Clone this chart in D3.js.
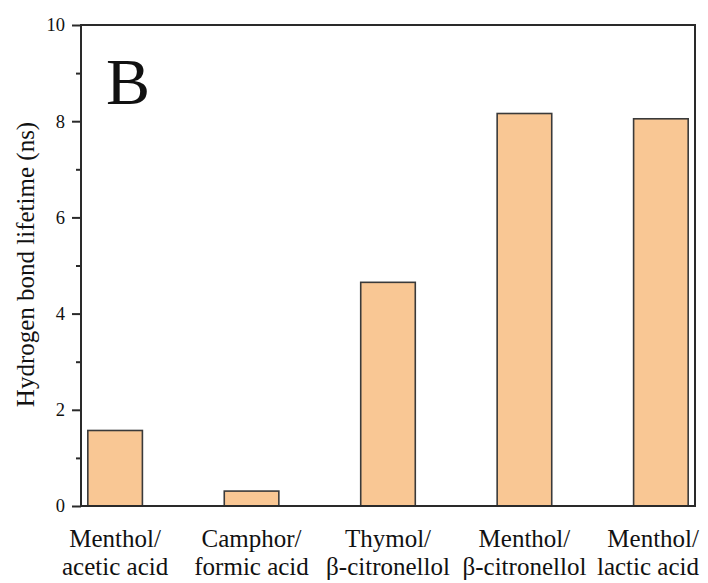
<!DOCTYPE html>
<html>
<head>
<meta charset="utf-8">
<script src="https://cdn.jsdelivr.net/npm/d3@7"></script>
<style>
  html, body { margin: 0; padding: 0; background: #fff; }
  svg { display: block; }
</style>
</head>
<body>
<svg id="chart" width="708" height="583"></svg>
<script>
// Hydrogen bond lifetime for each deep eutectic pair
const categories = [
  ["Menthol/", "acetic acid"],
  ["Camphor/", "formic acid"],
  ["Thymol/", "β-citronellol"],
  ["Menthol/", "β-citronellol"],
  ["Menthol/", "lactic acid"]
];
const lifetimes = [1.57, 0.31, 4.65, 8.16, 8.05];
const majorTicks = [0, 2, 4, 6, 8, 10];
const minorTicks = [1, 3, 5, 7, 9];
const panelLabel = "B";
const yTitle = "Hydrogen bond lifetime (ns)";

const SERIF = "'Liberation Serif', 'Times New Roman', Times, serif";
const INK = "#111";

const W = 708, H = 583;
const m = { left: 81, right: 13, top: 25, bottom: 77 };
const x0 = m.left, x1 = W - m.right, y0 = H - m.bottom, y1 = m.top;

const svg = d3.select("#chart");

const keys = categories.map((c, i) => i);
const x = d3.scaleBand().domain(keys).range([x0, x1])
  .paddingInner(0.6).paddingOuter(0.05);
const y = d3.scaleLinear().domain([0, 10]).range([y0, y1]);

// bars
svg.append("g").selectAll("rect")
  .data(lifetimes)
  .join("rect")
  .attr("x", (d, i) => x(i))
  .attr("y", d => y(d))
  .attr("width", x.bandwidth())
  .attr("height", d => y(0) - y(d))
  .attr("fill", "#f9c794")
  .attr("stroke", "#3a3a3a")
  .attr("stroke-width", 1.6);

// y axis: major ticks with labels
const yAxis = d3.axisLeft(y).tickValues(majorTicks).tickSize(9).tickPadding(7)
  .tickFormat(d3.format("d"));
const gy = svg.append("g").attr("transform", `translate(${x0},0)`).call(yAxis)
  .attr("font-family", SERIF);
gy.select(".domain").remove();
gy.selectAll(".tick line").attr("stroke", "#2a2a2a").attr("stroke-width", 2);
gy.selectAll(".tick text")
  .style("font-family", SERIF)
  .style("font-size", "18.5px")
  .attr("fill", INK);

// minor ticks
const yMinor = d3.axisLeft(y).tickValues(minorTicks).tickSize(5).tickFormat("");
const gm = svg.append("g").attr("transform", `translate(${x0},0)`).call(yMinor);
gm.select(".domain").remove();
gm.selectAll(".tick line").attr("stroke", "#2a2a2a").attr("stroke-width", 2);

// frame
svg.append("rect")
  .attr("x", x0).attr("y", y1)
  .attr("width", x1 - x0).attr("height", y0 - y1)
  .attr("fill", "none").attr("stroke", "#2a2a2a").attr("stroke-width", 2);

// category labels (two lines each); each line kept inside the canvas
const xl = svg.append("g");
categories.forEach((lines, i) => {
  const cx = x(i) + x.bandwidth() / 2;
  lines.forEach((s, k) => {
    const t = xl.append("text")
      .attr("text-anchor", "middle")
      .attr("fill", INK)
      .style("font-family", SERIF)
      .style("font-size", "25px")
      .attr("x", cx).attr("y", 547 + k * 28)
      .text(s);
    const half = t.node().getComputedTextLength() / 2;
    const shift = Math.min(0, W - 9 - (cx + half));
    if (shift < 0) t.attr("x", cx + shift);
  });
});

// y title
svg.append("text")
  .attr("transform", `translate(34,${(y0 + y1) / 2 - 1}) rotate(-90)`)
  .attr("text-anchor", "middle")
  .attr("fill", INK)
  .style("font-family", SERIF)
  .style("font-size", "25px")
  .text(yTitle);

// panel letter
svg.append("text")
  .attr("x", 106).attr("y", 104)
  .attr("fill", "#111")
  .style("font-family", SERIF)
  .style("font-size", "66px")
  .text(panelLabel);
</script>
</body>
</html>
